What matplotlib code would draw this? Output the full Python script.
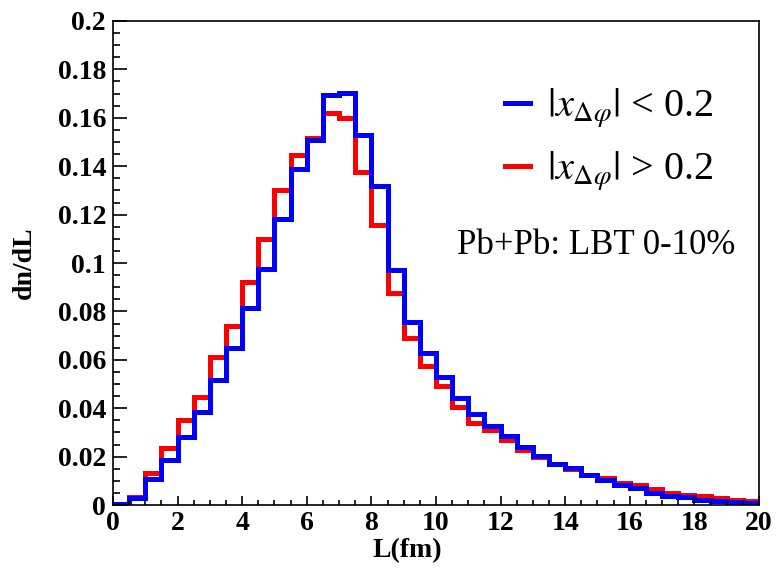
import numpy as np
import matplotlib
matplotlib.use('Agg')
import matplotlib.pyplot as plt
from matplotlib.ticker import MultipleLocator, FuncFormatter
from matplotlib.lines import Line2D

# bin edges in L (fm), 0.5 fm bins
bin_edges = np.linspace(0, 20, 41)

# |x_dphi| < 0.2 (blue)
dndl_small = [0.0005, 0.0030, 0.0107, 0.0186, 0.0282, 0.0386, 0.0517, 0.0647, 0.0815, 0.0975,
              0.1180, 0.1390, 0.1508, 0.1694, 0.1701, 0.1530, 0.1320, 0.0970, 0.0757, 0.0629,
              0.0530, 0.0441, 0.0376, 0.0325, 0.0287, 0.0241, 0.0204, 0.0170, 0.0151, 0.0122,
              0.0103, 0.0083, 0.0069, 0.0051, 0.0037, 0.0032, 0.0021, 0.0017, 0.0014, 0.0007]
# |x_dphi| > 0.2 (red)
dndl_large = [0.0005, 0.0035, 0.0134, 0.0235, 0.0350, 0.0448, 0.0613, 0.0740, 0.0920, 0.1100,
              0.1300, 0.1446, 0.1518, 0.1618, 0.1600, 0.1377, 0.1157, 0.0877, 0.0689, 0.0574,
              0.0490, 0.0406, 0.0337, 0.0310, 0.0269, 0.0227, 0.0197, 0.0168, 0.0150, 0.0125,
              0.0110, 0.0092, 0.0083, 0.0066, 0.0051, 0.0041, 0.0037, 0.0028, 0.0021, 0.0017]

labels = [r'$|x_{\Delta\varphi}|$ < 0.2', r'$|x_{\Delta\varphi}|$ > 0.2']
note = 'Pb+Pb: LBT 0-10%'

plt.rcParams['mathtext.fontset'] = 'stix'
fig = plt.figure(figsize=(7.77, 5.75), dpi=100)
ax = fig.add_axes([0.1454, 0.1217, 0.8314, 0.8418])

lw = 3.6
ax.stairs(dndl_large, bin_edges, color='#ff0000', linewidth=lw, baseline=0)
ax.stairs(dndl_small, bin_edges, color='#0000ff', linewidth=lw, baseline=0)

ax.set_xlim(0, 20)
ax.set_ylim(0, 0.2)

ax.xaxis.set_major_locator(MultipleLocator(2))
ax.xaxis.set_minor_locator(MultipleLocator(0.5))
ax.yaxis.set_major_locator(MultipleLocator(0.02))
ax.yaxis.set_minor_locator(MultipleLocator(0.005))
ax.yaxis.set_major_formatter(FuncFormatter(lambda v, p: '%g' % round(v, 3)))
ax.xaxis.set_major_formatter(FuncFormatter(lambda v, p: '%g' % v))

tick_font = dict(family='Liberation Serif', weight='bold', size=20)
ax.tick_params(axis='both', which='both', direction='in', top=False, right=False, width=1.2)
ax.tick_params(axis='y', which='major', length=10, pad=5)
ax.tick_params(axis='y', which='minor', length=5)
ax.tick_params(axis='x', which='major', length=6.5, pad=4)
ax.tick_params(axis='x', which='minor', length=3.6)
for lab in ax.get_xticklabels() + ax.get_yticklabels():
    lab.set_fontfamily('Liberation Serif')
    lab.set_fontweight('bold')
    lab.set_fontsize(20)

for sp in ax.spines.values():
    sp.set_linewidth(1.2)

ax.set_xlabel('L(fm)', fontdict=tick_font, labelpad=2)
ax.set_ylabel('dn/dL', fontdict=tick_font)
ax.xaxis.set_label_coords(0.455, -0.068)
ax.yaxis.set_label_coords(-0.118, 0.5)

handles = [Line2D([], [], color='#0000ff', linewidth=lw),
           Line2D([], [], color='#ff0000', linewidth=lw)]
leg = ax.legend(handles, labels, loc='upper right', bbox_to_anchor=(0.985, 0.94),
                frameon=False, handlelength=0.6, handletextpad=0.42, labelspacing=0.48,
                prop=dict(family='Liberation Serif', size=29))

ax.text(0.963, 0.537, note, transform=ax.transAxes, ha='right', va='center',
        family='Liberation Serif', fontsize=25)

fig.savefig('out.png', dpi=100)
